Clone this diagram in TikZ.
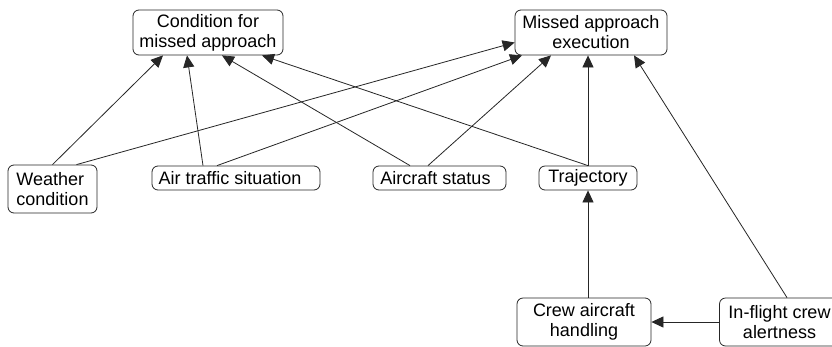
\documentclass[tikz,border=0pt]{standalone}
\usepackage{fontspec}
\setmainfont{Liberation Sans}
\usetikzlibrary{arrows.meta,calc}
\begin{document}
\begin{tikzpicture}[x=1pt,y=-1pt,
  box/.style={draw=black!85, line width=0.8pt, rounded corners=6pt, inner sep=0pt,
     font=\fontsize{18}{20}\selectfont, align=center},
  conn/.style={draw=black!85, line width=0.8pt, -{Triangle[length=12pt,width=11pt]}},
  link/.style={draw=black!85, line width=0.8pt}]
\useasboundingbox (0,0) rectangle (832,346);
\fill[white] (0,0) rectangle (832,346);
% nodes
\node[box, minimum width=150pt, minimum height=45pt] (cond) at (208,32.5) {Condition for\\missed approach};
\node[box, minimum width=152pt, minimum height=45pt] (miss) at (591,32.5) {Missed approach\\execution};
\node[box, minimum width=89pt, minimum height=48pt, align=left] (weather) at (52.5,189) {Weather\\condition};
\node[box, minimum width=168pt, minimum height=24pt] (air) at (236,178) {\hspace*{-12pt}Air traffic situation};
\node[box, minimum width=133pt, minimum height=24pt] (acs) at (439.5,178) {\hspace*{-8pt}Aircraft status};
\node[box, minimum width=98pt, minimum height=24pt] (traj) at (588,178) {Trajectory};
\node[box, minimum width=134pt, minimum height=48pt] (crew) at (584,322) {Crew aircraft\\handling};
\node[box, minimum width=120pt, minimum height=48pt] (alert) at (779.5,322) {In-flight crew\\alertness};
% connectors to condition
\draw[conn] (weather.north) -- ([xshift=-45pt]cond.south);
\draw[conn] ([xshift=-33pt]air.north) -- ([xshift=-21pt]cond.south);
\draw[conn] ([xshift=-29.5pt]acs.north) -- ([xshift=14pt]cond.south);
\draw[conn] (traj.north) -- ([xshift=54pt]cond.south);
% connectors to missed approach execution
\draw[conn] ([xshift=24pt]weather.north) -- ([yshift=-10pt]miss.west);
\draw[conn] ([xshift=-19pt]air.north) -- ([xshift=-69pt]miss.south);
\draw[conn] ([xshift=-11.5pt]acs.north) -- ([xshift=-40pt]miss.south);
\draw[conn] (traj.north) -- (traj.north |- miss.south);
\draw[conn] ([xshift=7.5pt]alert.north) -- ([xshift=43pt]miss.south);
% lower connectors
\draw[conn] (traj.south |- crew.north) -- (traj.south);
\draw[conn] (alert.west) -- (crew.east);
\end{tikzpicture}
\end{document}
